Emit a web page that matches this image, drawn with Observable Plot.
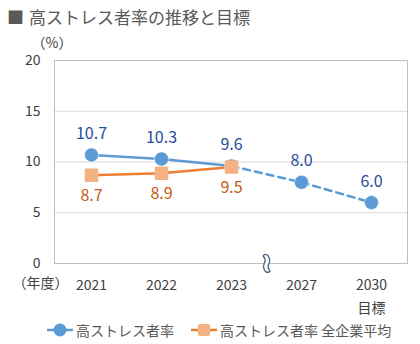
<!DOCTYPE html>
<html><head><meta charset="utf-8">
<script src="https://cdn.jsdelivr.net/npm/d3@7"></script>
<script src="https://cdn.jsdelivr.net/npm/@observablehq/plot@0.6"></script>
<style>
body{margin:0;background:#fff;font-family:"Noto Sans CJK JP","Noto Sans",sans-serif;color:#595959;width:420px;height:344px;overflow:hidden;position:relative}
#title{position:absolute;left:0;top:0;height:34px;line-height:34px;font-size:17px;padding-left:7px;color:#595959;white-space:nowrap}
#title .sq{color:#595959;margin-right:5px}
#chart{position:absolute;left:0;top:22px}
#legend{position:absolute;left:0;top:320px;display:flex;align-items:center;font-size:14px;color:#595959;padding-left:47px;white-space:nowrap}
#legend .item{display:flex;align-items:center;margin-right:17px}
#legend svg{margin-right:3px}
svg{display:block}
</style></head><body>
<div id="chart"></div>
<div id="title"><span class="sq">■</span>高ストレス者率の推移と目標</div>
<div id="legend"></div>
<script>
const years = ["2021", "2022", "2023", "2027", "2030"];
const highStress = [10.7, 10.3, 9.6, 8.0, 6.0];
const allCompanyAvg = [8.7, 8.9, 9.5];
const yTicks = [0, 5, 10, 15, 20];
const seriesNames = ["高ストレス者率", "高ストレス者率 全企業平均"];
const targetLabel = "目標";
const yUnit = "（%）";
const xUnit = "（年度）";

const blue = "#5b9bd5", blueText = "#1f4e9a";
const orange = "#ed7d31", orangeFill = "#f4b183", orangeText = "#c55a11";

const hs = years.map((y, i) => ({year: y, v: highStress[i]}));
const hsActual = hs.slice(0, 3);
const hsTarget = hs.slice(2);
const avg = allCompanyAvg.map((v, i) => ({year: years[i], v}));

const chart = Plot.plot({
  width: 420, height: 296,
  marginTop: 38, marginBottom: 55, marginLeft: 54, marginRight: 13,
  x: {type: "point", domain: years, padding: 0.5},
  y: {domain: [0, 20]},
  style: {fontFamily: '"Noto Sans CJK JP","Noto Sans",sans-serif', fontSize: "14px", color: "#404040", background: "transparent"},
  marks: [
    Plot.gridY(yTicks.filter(t => t > 0 && t < 20), {stroke: "#d9d9d9", strokeOpacity: 1}),
    Plot.frame({stroke: "#bfbfbf"}),
    Plot.axisY({ticks: yTicks, tickSize: 0, tickPadding: 14, label: null, fill: "#404040"}),
    Plot.axisX({tickSize: 0, tickPadding: 11, label: null, fill: "#404040", lineHeight: 1.6,
      tickFormat: d => d === "2030" ? d + "\n" + targetLabel : d}),
    Plot.text([yUnit], {frameAnchor: "top-left", dx: -23, dy: -22, fill: "#404040", fontSize: 14}),
    Plot.text([xUnit], {frameAnchor: "bottom-left", textAnchor: "end", dx: 14, dy: 24, fill: "#404040", fontSize: 14}),
    Plot.text(["≀"], {x: () => "2023", y: () => 0, dx: 35, fontSize: 24, fill: "none", stroke: "#203864", strokeWidth: 3.5, fontFamily: "DejaVu Sans"}),
    Plot.text(["≀"], {x: () => "2023", y: () => 0, dx: 35, fontSize: 24, fill: "#fff", stroke: "#fff", strokeWidth: 1.2, fontFamily: "DejaVu Sans"}),
    Plot.line(hsActual, {x: "year", y: "v", stroke: blue, strokeWidth: 2.5}),
    Plot.line(hsTarget, {x: "year", y: "v", stroke: blue, strokeWidth: 2.5, strokeDasharray: "7,5"}),
    Plot.line(avg, {x: "year", y: "v", stroke: orange, strokeWidth: 2.5}),
    Plot.dot(hs, {x: "year", y: "v", r: 7, fill: blue, stroke: "#fff", strokeWidth: 0.5}),
    Plot.dot(avg, {x: "year", y: "v", symbol: "square", r: 6.5, fill: orangeFill, stroke: orangeFill, strokeWidth: 2, strokeLinejoin: "round"}),
    Plot.text(hs, {x: "year", y: "v", text: d => d.v.toFixed(1), dy: -21, fill: blueText, fontSize: 16}),
    Plot.text(avg, {x: "year", y: "v", text: d => d.v.toFixed(1), dy: 21, fill: orangeText, fontSize: 16})
  ]
});
document.getElementById("chart").appendChild(chart);

const legend = document.getElementById("legend");
legend.innerHTML =
  `<span class="item"><svg width="26" height="16"><line x1="0" x2="26" y1="8" y2="8" stroke="${blue}" stroke-width="2.5"/><circle cx="13" cy="8" r="6.5" fill="${blue}"/></svg>${seriesNames[0]}</span>` +
  `<span class="item"><svg width="26" height="16"><line x1="0" x2="26" y1="8" y2="8" stroke="${orange}" stroke-width="2.5"/><rect x="7" y="2" width="12" height="12" rx="2" fill="${orangeFill}"/></svg>${seriesNames[1]}</span>`;
</script>
</body></html>
